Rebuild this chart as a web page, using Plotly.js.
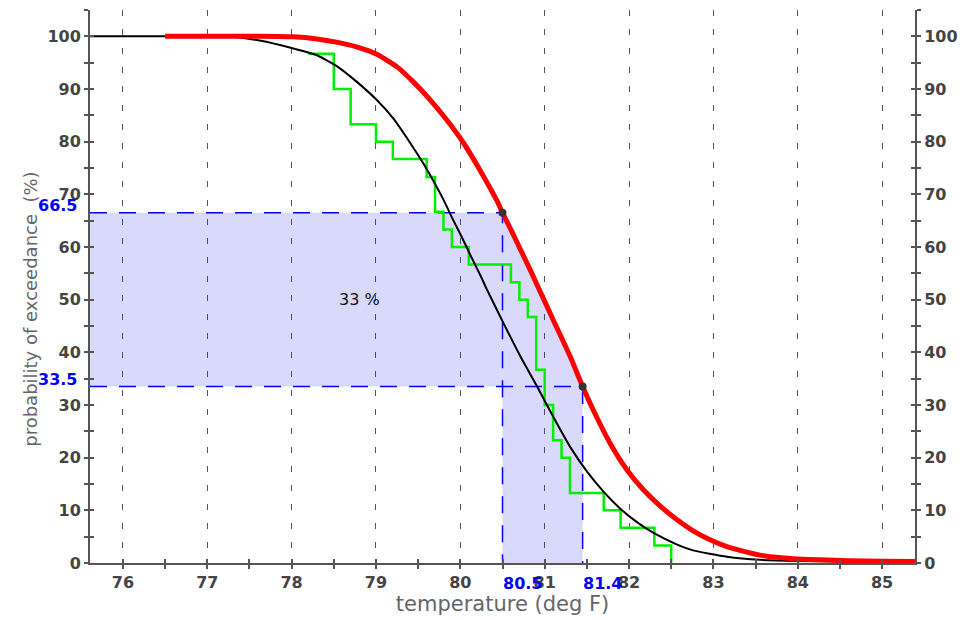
<!DOCTYPE html>
<html>
<head>
<meta charset="utf-8">
<script src="https://cdn.plot.ly/plotly-3.0.1.min.js"></script>
<style>
  html, body { margin: 0; padding: 0; background: #ffffff; }
  #chart { width: 965px; height: 620px; }
</style>
</head>
<body>
<div id="chart"></div>
<script>
// ---- data ----
const tempBlack = [75.61, 76.0, 76.5, 77.0, 77.3, 77.62, 78.02, 78.30, 78.53, 78.77, 79.01, 79.20, 79.40, 79.56, 79.68, 79.80, 79.91, 80.02, 80.13, 80.25, 80.31, 80.51, 80.71, 80.91, 81.02, 81.10, 81.30, 81.50, 81.70, 81.89, 82.09, 82.29, 82.57, 82.76, 83.16, 83.55, 84.0, 84.5, 85.07];
const probBlack = [100, 100, 100, 100, 99.9, 99.2, 97.7, 96.4, 94.4, 91.4, 87.9, 84.5, 79.9, 75.9, 72.6, 69.0, 65.3, 61.8, 58.1, 54.2, 52.1, 45.6, 39.3, 33.5, 30.2, 27.8, 22.1, 17.4, 13.5, 10.4, 7.8, 5.7, 3.5, 2.4, 1.2, 0.6, 0.4, 0.3, 0.3];

const tempRed = [76.5, 77.0, 77.62, 78.02, 78.30, 78.53, 78.77, 79.01, 79.25, 79.44, 79.64, 79.84, 80.04, 80.24, 80.44, 80.5, 80.63, 80.71, 80.83, 80.91, 81.10, 81.30, 81.45, 81.58, 81.78, 81.97, 82.17, 82.37, 82.57, 82.76, 82.96, 83.16, 83.36, 83.55, 83.95, 84.27, 84.6, 85.0, 85.39];
const probRed = [100, 100, 100, 99.9, 99.5, 98.9, 98.0, 96.6, 94.2, 91.4, 88.0, 84.1, 79.7, 74.4, 68.6, 66.5, 62.3, 59.6, 55.6, 52.8, 46.2, 39.3, 33.5, 28.9, 22.6, 17.8, 13.9, 10.8, 8.2, 6.1, 4.4, 3.1, 2.2, 1.5, 0.8, 0.6, 0.45, 0.35, 0.3];

const tempStep = [78.2, 78.5, 78.7, 79.0, 79.2, 79.6, 79.7, 79.8, 79.9, 80.1, 80.6, 80.7, 80.8, 80.9, 81.0, 81.1, 81.2, 81.3, 81.7, 81.9, 82.3, 82.5];
const probStep = [96.7, 90, 83.3, 80, 76.7, 73.3, 66.7, 63.3, 60, 56.7, 53.3, 50, 46.7, 36.7, 30, 23.3, 20, 13.3, 10, 6.7, 3.3, 0];

const markTemp = [80.5, 81.45];
const markProb = [66.5, 33.5];
const markTempLabels = ['80.5', '81.4'];
const markProbLabels = ['66.5', '33.5'];
const diffLabel = '33 %';

const xTicks = [76, 77, 78, 79, 80, 81, 82, 83, 84, 85];
const yTicks = [0, 10, 20, 30, 40, 50, 60, 70, 80, 90, 100];

// ---- chart ----
const xMin = 75.61, xMax = 85.39, yMax = 105;
const tickFont = { family: 'DejaVu Sans', size: 16, color: '#444444', weight: 'bold' };
const blue = '#0000ff';
const axisGray = '#555555';

// shaded region
const fillX = [xMin, xMin, markTemp[0]];
const fillY = [markProb[1], markProb[0], markProb[0]];
for (let i = 0; i < tempRed.length; i++) {
  if (tempRed[i] > markTemp[0] && tempRed[i] < markTemp[1]) { fillX.push(tempRed[i]); fillY.push(probRed[i]); }
}
fillX.push(markTemp[1], markTemp[1], markTemp[0], markTemp[0]);
fillY.push(markProb[1], 0, 0, markProb[1]);

const traces = [
  { x: fillX, y: fillY, type: 'scatter', mode: 'lines', fill: 'toself',
    fillcolor: 'rgba(20,20,230,0.16)', line: { width: 0 }, hoverinfo: 'skip', showlegend: false },
  { x: [xMin, markTemp[0], markTemp[0]], y: [markProb[0], markProb[0], 0], type: 'scatter', mode: 'lines',
    line: { color: blue, width: 1.5, dash: '17px,12px' }, showlegend: false },
  { x: [xMin, markTemp[1], markTemp[1]], y: [markProb[1], markProb[1], 0], type: 'scatter', mode: 'lines',
    line: { color: blue, width: 1.5, dash: '17px,12px' }, showlegend: false },
  { x: tempStep, y: probStep, type: 'scatter', mode: 'lines',
    line: { color: '#00f000', width: 2.5, shape: 'hv' }, showlegend: false },
  { x: tempBlack, y: probBlack, type: 'scatter', mode: 'lines',
    line: { color: '#000000', width: 2, shape: 'spline', smoothing: 0.5 }, showlegend: false },
  { x: tempRed, y: probRed, type: 'scatter', mode: 'lines',
    line: { color: '#ff0000', width: 5, shape: 'spline', smoothing: 0.5 }, showlegend: false },
  { x: markTemp, y: markProb, type: 'scatter', mode: 'markers',
    marker: { color: '#333333', size: 8 }, showlegend: false },
  { x: [xMin], y: [0], yaxis: 'y2', type: 'scatter', mode: 'markers', marker: { opacity: 0 }, hoverinfo: 'skip', showlegend: false },
  { x: [xMin], y: [0], xaxis: 'x2', yaxis: 'y3', type: 'scatter', mode: 'markers', marker: { opacity: 0 }, hoverinfo: 'skip', showlegend: false }
];

const annotations = [];
for (let i = 0; i < markProb.length; i++) {
  annotations.push({ x: xMin, y: markProb[i], xref: 'x', yref: 'y', text: markProbLabels[i],
    showarrow: false, xanchor: 'right', yanchor: 'bottom', xshift: -11, yshift: -4,
    font: { family: 'DejaVu Sans', size: 16, color: blue, weight: 'bold' } });
  annotations.push({ x: markTemp[i], y: 0, xref: 'x', yref: 'y', text: markTempLabels[i],
    showarrow: false, xanchor: 'left', yanchor: 'top', xshift: -2, yshift: -9,
    font: { family: 'DejaVu Sans', size: 16, color: blue, weight: 'bold' } });
}
annotations.push({ x: 78.8, y: (markProb[0] + markProb[1]) / 2, xref: 'x', yref: 'y', text: diffLabel,
  showarrow: false, font: { family: 'DejaVu Sans', size: 16, color: '#111111' } });
annotations.push({ x: -0.072, y: 0.459, xref: 'paper', yref: 'paper', text: 'probability of exceedance  (%)',
  textangle: -90, showarrow: false, xanchor: 'center', yanchor: 'middle',
  font: { family: 'DejaVu Sans', size: 18, color: '#666666' } });

const tickCommon = { ticklen: 4, tickwidth: 1.5, tickcolor: axisGray };

const layout = {
  width: 965, height: 620,
  margin: { l: 90, r: 50, t: 10, b: 57 },
  paper_bgcolor: '#ffffff', plot_bgcolor: '#ffffff',
  showlegend: false,
  xaxis: Object.assign({
    range: [xMin, xMax], tickvals: xTicks, ticktext: xTicks.map(String),
    showgrid: true, gridcolor: axisGray, gridwidth: 1.3, griddash: '6px,13px',
    zeroline: false, showline: true, linecolor: axisGray, linewidth: 2,
    ticks: 'outside',
    minor: Object.assign({ dtick: 0.5, tick0: 76, ticks: 'outside', showgrid: false }, tickCommon),
    tickfont: tickFont,
    title: { text: 'temperature (deg F)', font: { family: 'DejaVu Sans', size: 21, color: '#666666' }, standoff: 5 }
  }, tickCommon),
  xaxis2: Object.assign({
    overlaying: 'x', matches: 'x', side: 'bottom', range: [xMin, xMax], tickvals: xTicks,
    showticklabels: false, showgrid: false, zeroline: false, showline: false,
    ticks: 'inside',
    minor: Object.assign({ dtick: 0.5, tick0: 76, ticks: 'inside', showgrid: false }, tickCommon)
  }, tickCommon),
  yaxis: Object.assign({
    range: [0, yMax], tickvals: yTicks, ticktext: yTicks.map(String),
    showgrid: false, zeroline: false, showline: true, linecolor: axisGray, linewidth: 2,
    ticks: 'outside',
    minor: Object.assign({ dtick: 5, tick0: 0, ticks: 'outside', showgrid: false }, tickCommon),
    tickfont: tickFont
  }, tickCommon),
  yaxis2: Object.assign({
    overlaying: 'y', side: 'right', range: [0, yMax], tickvals: yTicks, ticktext: yTicks.map(String),
    showgrid: false, zeroline: false, showline: true, linecolor: axisGray, linewidth: 2,
    ticks: 'outside',
    minor: Object.assign({ dtick: 5, tick0: 0, ticks: 'outside', showgrid: false }, tickCommon),
    tickfont: tickFont
  }, tickCommon),
  yaxis3: Object.assign({
    overlaying: 'y', matches: 'y', side: 'left', range: [0, yMax], tickvals: yTicks,
    showticklabels: false, showgrid: false, zeroline: false, showline: false, mirror: 'ticks',
    ticks: 'inside',
    minor: Object.assign({ dtick: 5, tick0: 0, ticks: 'inside', showgrid: false }, tickCommon)
  }, tickCommon),
  annotations: annotations
};

Plotly.newPlot('chart', traces, layout, { displayModeBar: false, responsive: false });
</script>
</body>
</html>
